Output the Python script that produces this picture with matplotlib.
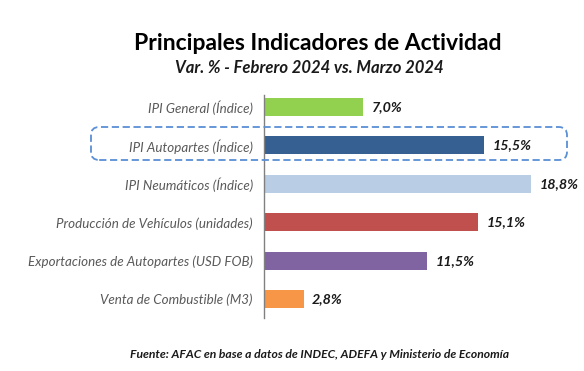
import matplotlib
matplotlib.use("Agg")
import matplotlib.pyplot as plt
from matplotlib.patches import FancyBboxPatch

categories = ["IPI General (Índice)", "IPI Autopartes (Índice)", "IPI Neumáticos (Índice)",
              "Producción de Vehículos (unidades)", "Exportaciones de Autopartes (USD FOB)",
              "Venta de Combustible (M3)"]
values = [7.0, 15.5, 18.8, 15.1, 11.5, 2.8]
colors = ["#92D050", "#376092", "#B9CDE5", "#C0504D", "#8064A2", "#F79646"]
highlight = 1

plt.rcParams["font.family"] = ["Lato", "DejaVu Sans"]

W, H = 584, 371
fig = plt.figure(figsize=(W / 100, H / 100), dpi=100)
ax = fig.add_axes([264 / W, 1 - 318 / H, (548 - 264) / W, (318 - 95) / H])

ypos = list(range(len(categories)))
ax.barh(ypos, values, height=0.47, color=colors)
ax.set_xlim(0, 20)
ax.set_ylim(5.49, -0.31)

for y, v in zip(ypos, values):
    ax.annotate(f"{v:.1f}%".replace(".", ","), (v, y), xytext=(6, 0), textcoords="offset points",
                va="center", ha="left", fontsize=10.3, fontweight="bold", fontstyle="italic", color="#1a1a1a")

ax.set_yticks(ypos)
ax.set_yticklabels(categories, fontsize=9.6, fontstyle="italic", color="#595959")
ax.tick_params(axis="y", length=0, pad=8)
ax.set_xticks([])
for s in ["top", "right", "bottom"]:
    ax.spines[s].set_visible(False)
ax.spines["left"].set_color("#808080")
ax.spines["left"].set_linewidth(1.0)

fig.text(318 / W, 1 - 44 / H, "Principales Indicadores de Actividad", ha="center", va="center",
         fontsize=16.5, fontweight="bold", color="#000000")
fig.text(309 / W, 1 - 68 / H, "Var. % - Febrero 2024 vs. Marzo 2024", ha="center", va="center",
         fontsize=12, fontweight="bold", fontstyle="italic", color="#1a1a1a")
fig.text(320 / W, 1 - 354 / H, "Fuente: AFAC en base a datos de INDEC, ADEFA y Ministerio de Economía",
         ha="center", va="center", fontsize=8.7, fontweight="bold", fontstyle="italic", color="#1a1a1a")

# dashed highlight frame around the IPI Autopartes row
box = FancyBboxPatch((91 / W, 1 - 160 / H), (567 - 91) / W, (160 - 127) / H,
                     boxstyle="round,pad=0,rounding_size=0.014", mutation_aspect=W / H,
                     transform=fig.transFigure, fill=False, edgecolor="#5B8FD6",
                     linewidth=1.3, linestyle=(0, (4, 2)), clip_on=False)
fig.patches.append(box)

fig.savefig("out.png", dpi=100)
